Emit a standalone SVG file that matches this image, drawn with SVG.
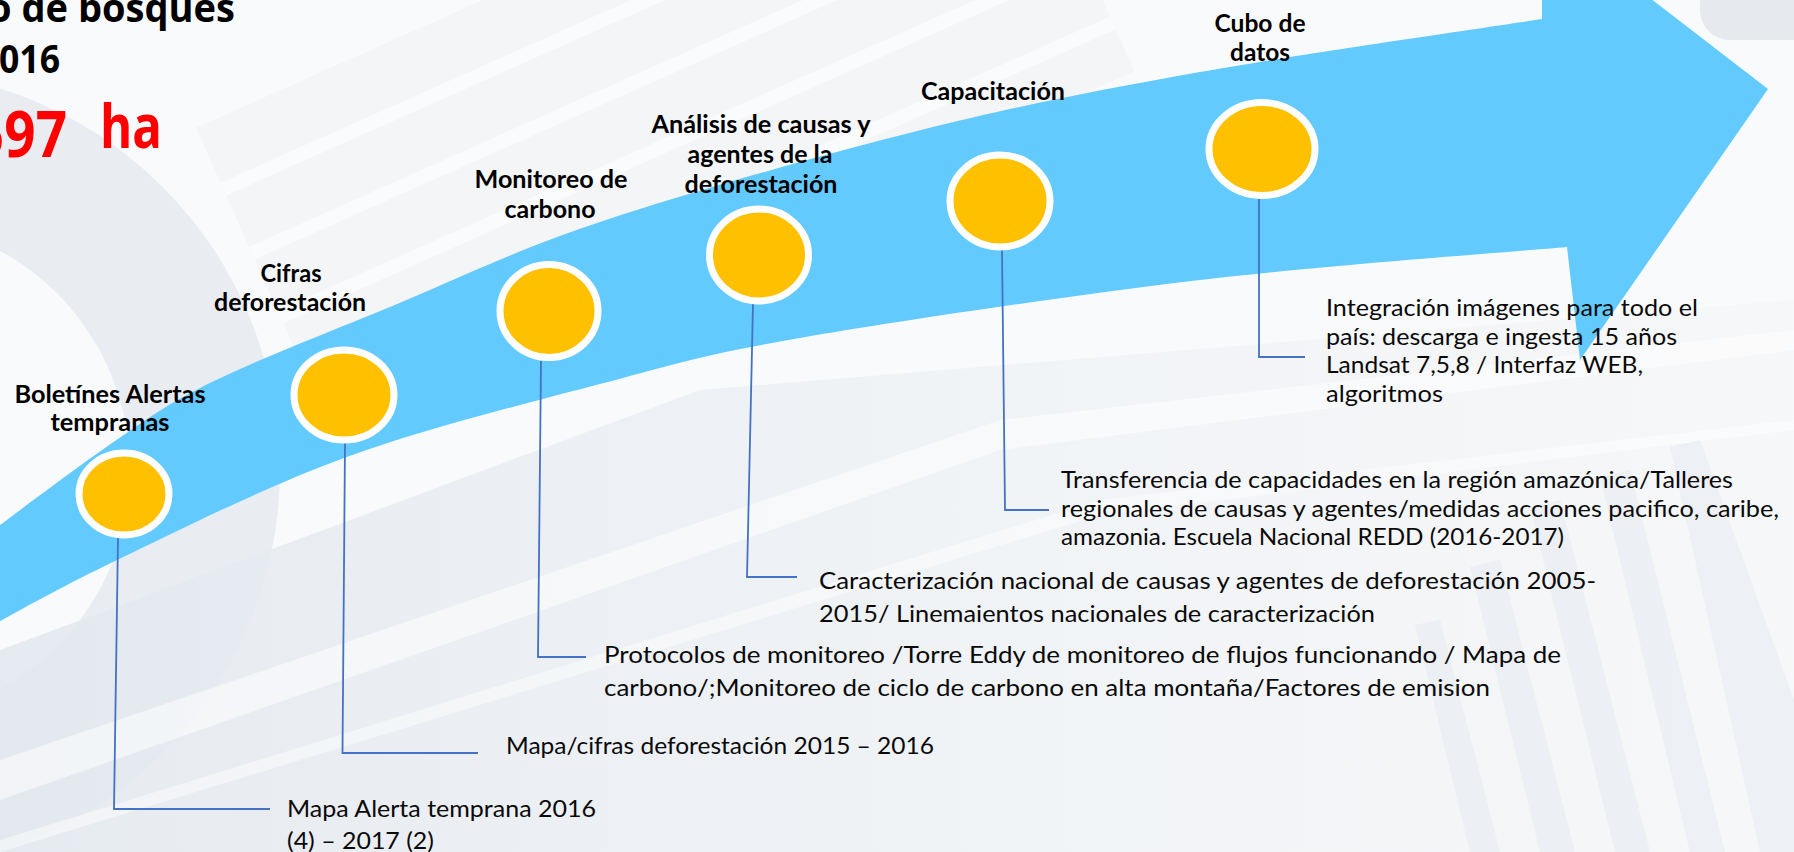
<svg xmlns="http://www.w3.org/2000/svg" width="1794" height="852" viewBox="0 0 1794 852">
  <defs>
    <style>
      .lbl { font-family: Lato, "Liberation Sans", sans-serif; font-weight: 700; font-size: 24px; fill: #000; text-anchor: middle; }
      .txt { font-family: Lato, "Liberation Sans", sans-serif; font-size: 24px; fill: #0a0a0a; }
      .ttl { font-family: "Open Sans", "Liberation Sans", sans-serif; font-weight: 700; fill: #000; }
      .red { font-family: "Open Sans", "Liberation Sans", sans-serif; font-weight: 700; fill: #ff0000; }
      .dot { fill: #ffc000; stroke: #ffffff; stroke-width: 7; }
      .con { fill: none; stroke: #4472c4; stroke-width: 1.8; }
    </style>
    <linearGradient id="lowbg" x1="0" y1="0" x2="1" y2="0">
      <stop offset="0" stop-color="#e3e8ee"/>
      <stop offset="0.55" stop-color="#eff2f5"/>
      <stop offset="1" stop-color="#f6f7f9"/>
    </linearGradient>
  </defs>

  <g id="background">
    <rect x="0" y="0" width="1794" height="852" fill="#f9fafb"/>
    <circle cx="-120" cy="470" r="325" fill="none" stroke="#e9edf2" stroke-width="150"/>
    <polygon points="0,650 700,390 1794,300 1794,852 0,852" fill="url(#lowbg)" opacity="0.85"/>
    <polygon points="0,760 1000,420 1794,330 1794,350 1000,450 0,800" fill="#ffffff" opacity="0.5"/>
    <polygon points="0,840 1100,500 1794,420 1794,430 1100,515 0,852" fill="#ffffff" opacity="0.45"/>
    <g transform="rotate(-24 650 90)" opacity="0.5">
      <rect x="220" y="-60" width="880" height="330" fill="#eef1f5"/>
      <rect x="220" y="0" width="880" height="14" fill="#ffffff" opacity="0.8"/>
      <rect x="220" y="70" width="880" height="14" fill="#ffffff" opacity="0.8"/>
      <rect x="220" y="140" width="880" height="14" fill="#ffffff" opacity="0.8"/>
      <rect x="220" y="210" width="880" height="14" fill="#ffffff" opacity="0.8"/>
    </g>
    <rect x="1700" y="-40" width="140" height="80" rx="30" fill="#e6eaef"/>
    <g fill="#e6ebf0" opacity="0.55">
      <polygon points="1470,852 1500,852 1440,620 1415,625"/>
      <polygon points="1540,852 1575,852 1500,560 1470,567"/>
      <polygon points="1615,852 1650,852 1560,500 1530,507"/>
      <polygon points="1690,852 1725,852 1630,470 1600,477"/>
      <polygon points="1760,852 1794,852 1794,700 1700,440 1670,447"/>
    </g>
  </g>

  <g id="title">
    <text class="ttl" x="-12" y="22" font-size="39" textLength="247" lengthAdjust="spacingAndGlyphs">o de bosques</text>
    <text class="ttl" x="-1" y="73" font-size="39" textLength="61" lengthAdjust="spacingAndGlyphs">016</text>
    <text class="red" x="-27" y="157" font-size="64" textLength="94" lengthAdjust="spacingAndGlyphs">597</text>
    <text class="red" x="100" y="148" font-size="60" textLength="62" lengthAdjust="spacingAndGlyphs">ha</text>
  </g>

  <path id="arrow" fill="#63cafe" d="M -20,540 C 2.5,523.5 76,467.5 115,441 C 154,414.5 168.2,403.3 214,381 C 259.8,358.7 325.7,333.5 390,307 C 454.3,280.5 511.5,251.5 600,222 C 688.5,192.5 821,155 921,130 C 1021,105 1096.5,90.5 1200,72 C 1303.5,53.5 1485,27.8 1542,19 L 1542,-5 L 1646,-5 L 1768,89 L 1580,360 L 1567,247 C 1505.8,252.5 1327.8,264.8 1200,280 C 1072.2,295.2 900,320.7 800,338 C 700,355.3 676,364 600,384 C 524,404 424.8,428.5 344,458 C 263.2,487.5 175.7,532 115,561 C 54.3,590 2.5,620.2 -20,632 Z"/>

  <g id="connectors">
    <path class="con" d="M118,538 L114,809 L270,809"/>
    <path class="con" d="M345,443 L342.5,753 L478,753"/>
    <path class="con" d="M541,361 L538,657 L586,657"/>
    <path class="con" d="M753,304 L747,577 L797,577"/>
    <path class="con" d="M1002,250 L1005,510 L1049,510"/>
    <path class="con" d="M1259,199 L1259,357 L1305,357"/>
  </g>

  <g id="node-boletines">
    <ellipse class="dot" cx="124" cy="494" rx="45" ry="41"/>
    <text class="lbl" x="110" y="403" textLength="191" lengthAdjust="spacingAndGlyphs">Boletínes Alertas</text>
    <text class="lbl" x="110" y="431" textLength="119" lengthAdjust="spacingAndGlyphs">tempranas</text>
    <text class="txt" x="287" y="817" textLength="309" lengthAdjust="spacingAndGlyphs">Mapa Alerta temprana 2016</text>
    <text class="txt" x="287" y="849" textLength="147" lengthAdjust="spacingAndGlyphs">(4) – 2017 (2)</text>
  </g>

  <g id="node-cifras">
    <ellipse class="dot" cx="344" cy="395" rx="50" ry="45"/>
    <text class="lbl" x="291" y="282" textLength="61" lengthAdjust="spacingAndGlyphs">Cifras</text>
    <text class="lbl" x="290" y="311" textLength="152" lengthAdjust="spacingAndGlyphs">deforestación</text>
    <text class="txt" x="506" y="754" textLength="428" lengthAdjust="spacingAndGlyphs">Mapa/cifras deforestación 2015 – 2016</text>
  </g>

  <g id="node-carbono">
    <ellipse class="dot" cx="549" cy="311" rx="49" ry="46.5"/>
    <text class="lbl" x="551" y="188" textLength="153" lengthAdjust="spacingAndGlyphs">Monitoreo de</text>
    <text class="lbl" x="550" y="218" textLength="91" lengthAdjust="spacingAndGlyphs">carbono</text>
    <text class="txt" x="604" y="663" textLength="957" lengthAdjust="spacingAndGlyphs">Protocolos de monitoreo /Torre Eddy de monitoreo de flujos funcionando / Mapa de</text>
    <text class="txt" x="604" y="696" textLength="886" lengthAdjust="spacingAndGlyphs">carbono/;Monitoreo de ciclo de carbono en alta montaña/Factores de emision</text>
  </g>

  <g id="node-causas">
    <ellipse class="dot" cx="759" cy="255" rx="49.5" ry="46"/>
    <text class="lbl" x="761" y="133" textLength="219" lengthAdjust="spacingAndGlyphs">Análisis de causas y</text>
    <text class="lbl" x="760" y="163" textLength="145" lengthAdjust="spacingAndGlyphs">agentes de la</text>
    <text class="lbl" x="761" y="193" textLength="153" lengthAdjust="spacingAndGlyphs">deforestación</text>
    <text class="txt" x="819" y="589" textLength="777" lengthAdjust="spacingAndGlyphs">Caracterización nacional de causas y agentes de deforestación 2005-</text>
    <text class="txt" x="819" y="622" textLength="556" lengthAdjust="spacingAndGlyphs">2015/ Linemaientos nacionales de caracterización</text>
  </g>

  <g id="node-capacitacion">
    <ellipse class="dot" cx="1000" cy="201" rx="50" ry="46"/>
    <text class="lbl" x="993" y="100" textLength="144" lengthAdjust="spacingAndGlyphs">Capacitación</text>
    <text class="txt" x="1061" y="488" textLength="672" lengthAdjust="spacingAndGlyphs">Transferencia de capacidades en la región amazónica/Talleres</text>
    <text class="txt" x="1061" y="517" textLength="718" lengthAdjust="spacingAndGlyphs">regionales de causas y agentes/medidas acciones pacifico, caribe,</text>
    <text class="txt" x="1061" y="545" textLength="503" lengthAdjust="spacingAndGlyphs">amazonia. Escuela Nacional REDD (2016-2017)</text>
  </g>

  <g id="node-cubo">
    <ellipse class="dot" cx="1262" cy="149" rx="53" ry="46.5"/>
    <text class="lbl" x="1260" y="32" textLength="91" lengthAdjust="spacingAndGlyphs">Cubo de</text>
    <text class="lbl" x="1260" y="61" textLength="60" lengthAdjust="spacingAndGlyphs">datos</text>
    <text class="txt" x="1326" y="316" textLength="372" lengthAdjust="spacingAndGlyphs">Integración imágenes para todo el</text>
    <text class="txt" x="1326" y="345" textLength="351" lengthAdjust="spacingAndGlyphs">país: descarga e ingesta 15 años</text>
    <text class="txt" x="1326" y="373" textLength="317" lengthAdjust="spacingAndGlyphs">Landsat 7,5,8 / Interfaz WEB,</text>
    <text class="txt" x="1326" y="402" textLength="117" lengthAdjust="spacingAndGlyphs">algoritmos</text>
  </g>
</svg>
